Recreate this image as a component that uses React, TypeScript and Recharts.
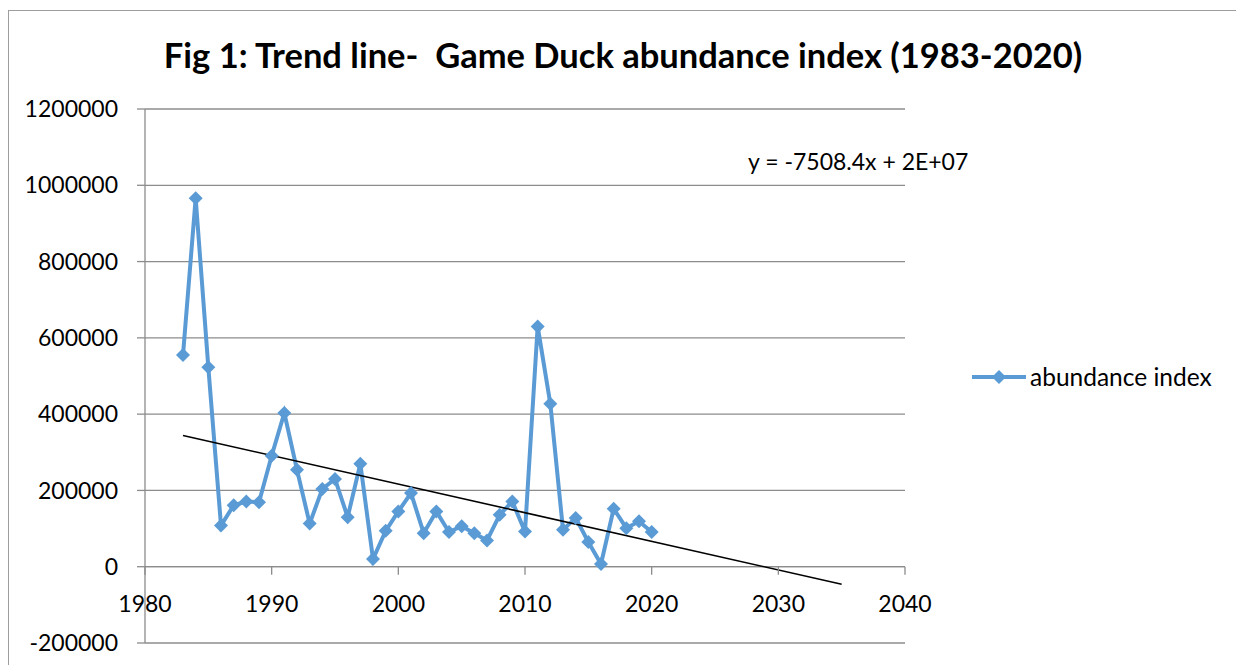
import { LineChart, Line, XAxis, YAxis, CartesianGrid, ReferenceLine, ReferenceDot } from 'recharts';

const years = [
  1983, 1984, 1985, 1986, 1987, 1988, 1989, 1990, 1991, 1992,
  1993, 1994, 1995, 1996, 1997, 1998, 1999, 2000, 2001, 2002,
  2003, 2004, 2005, 2006, 2007, 2008, 2009, 2010, 2011, 2012,
  2013, 2014, 2015, 2016, 2017, 2018, 2019, 2020,
];
const abundance = [
  555000, 966000, 523000, 108000, 161000, 171000, 169000, 291000, 403000, 254000,
  113000, 204000, 230000, 130000, 270000, 20000, 94000, 145000, 193000, 88000,
  145000, 91000, 106000, 88000, 69000, 136000, 171000, 92000, 630000, 427000,
  97000, 128000, 65000, 7000, 152000, 101000, 119000, 91000,
];
const xTicks = [1980, 1990, 2000, 2010, 2020, 2030, 2040];
const yTicks = [-200000, 0, 200000, 400000, 600000, 800000, 1000000, 1200000];
const trendSlope = -7508.4;
const trendRange = [1983, 2035];

const BLUE = '#5b9bd5';
const GRID = '#8c8c8c';
const FONT = 'Lato, sans-serif';

const data = years.map((year, i) => ({ year, value: abundance[i] }));

// linear trend with the slope from the label, passing through the data mean
const meanX = years.reduce((a, b) => a + b, 0) / years.length;
const meanY = abundance.reduce((a, b) => a + b, 0) / abundance.length;
const intercept = meanY - trendSlope * meanX;
const trendData = trendRange.map((year) => ({ year, trend: trendSlope * year + intercept }));

const Diamond = (props: any) => {
  const { cx, cy } = props;
  if (cx == null || cy == null) return null;
  const r = 7;
  return (
    <polygon
      key={`d-${cx}`}
      points={`${cx},${cy - r} ${cx + r},${cy} ${cx},${cy + r} ${cx - r},${cy}`}
      fill={BLUE}
    />
  );
};

const XTick = (props: any) => {
  const { cx, cy, label } = props;
  return (
    <g>
      <line x1={cx} y1={cy} x2={cx} y2={cy + 8} stroke={GRID} strokeWidth={1.3} />
      <text x={cx} y={cy + 45} textAnchor="middle" fontSize={23} fontFamily={FONT} fill="#000">
        {label}
      </text>
    </g>
  );
};

const LegendBox = () => (
  <div style={{ display: 'flex', alignItems: 'center', fontFamily: FONT, fontSize: 24.5, color: '#000' }}>
    <svg width={56} height={20}>
      <line x1={0} y1={10} x2={54} y2={10} stroke={BLUE} strokeWidth={4} />
      <polygon points="27,3 34,10 27,17 20,10" fill={BLUE} />
    </svg>
    <span style={{ marginLeft: 2 }}>abundance index</span>
  </div>
);

export default function App() {
  return (
    <div style={{ position: 'absolute', left: 0, top: 0, width: 1236, height: 665, background: '#fff', overflow: 'hidden' }}>
      <div
        style={{
          position: 'absolute', left: 8, top: 10, width: 1300, height: 700,
          border: '1.5px solid #9d9d9d', boxSizing: 'border-box',
        }}
      />
      <div
        style={{
          position: 'absolute', left: 0, width: 1246, top: 34, textAlign: 'center',
          fontFamily: FONT, fontWeight: 700, fontSize: 34.5, color: '#000', whiteSpace: 'nowrap',
        }}
      >
        Fig 1: Trend line-&nbsp; Game Duck abundance index (1983-2020)
      </div>
      <div style={{ position: 'absolute', left: 748, top: 147, fontFamily: FONT, fontSize: 23, color: '#000' }}>
        y = -7508.4x + 2E+07
      </div>
      <div style={{ position: 'absolute', left: 972, top: 362 }}>
        <LegendBox />
      </div>
      <LineChart
        width={1236}
        height={665}
        data={data}
        margin={{ top: 109, right: 331, bottom: 22, left: 0 }}
        style={{ position: 'absolute', left: 0, top: 0 }}
      >
        <CartesianGrid horizontal vertical={false} stroke={GRID} strokeWidth={1.3} />
        <XAxis dataKey="year" type="number" domain={[1980, 2040]} ticks={xTicks} hide height={0} allowDuplicatedCategory={false} />
        <YAxis
          type="number"
          domain={[-200000, 1200000]}
          ticks={yTicks}
          width={145}
          tickSize={8}
          tickMargin={19}
          axisLine={{ stroke: GRID, strokeWidth: 1.3 }}
          tickLine={{ stroke: GRID, strokeWidth: 1.3 }}
          tick={{ fill: '#000', fontSize: 23, fontFamily: FONT }}
          interval={0}
        />
        <ReferenceLine y={0} stroke={GRID} strokeWidth={1.3} />
        {xTicks.map((t) => (
          <ReferenceDot key={t} x={t} y={0} r={0} shape={(p: any) => <XTick {...p} label={t} />} />
        ))}
        <Line
          dataKey="value"
          stroke={BLUE}
          strokeWidth={4}
          dot={<Diamond />}
          activeDot={false}
          isAnimationActive={false}
          name="abundance index"
        />
        <Line
          data={trendData}
          dataKey="trend"
          stroke="#000"
          strokeWidth={1.5}
          dot={false}
          activeDot={false}
          isAnimationActive={false}
        />
      </LineChart>
    </div>
  );
}
